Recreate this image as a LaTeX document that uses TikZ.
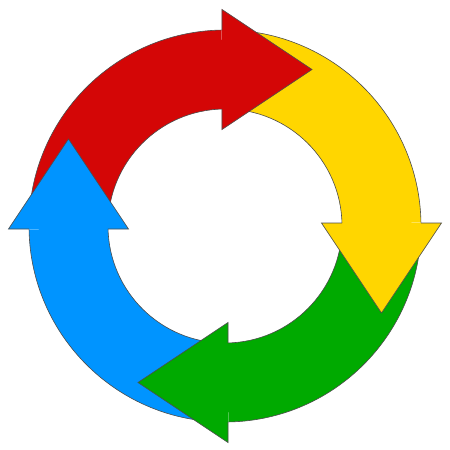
\documentclass[tikz,border=0pt]{standalone}
\usepackage{tikz}
\definecolor{arrowred}{RGB}{212,6,6}
\definecolor{arrowyellow}{RGB}{255,214,0}
\definecolor{arrowgreen}{RGB}{0,170,0}
\definecolor{arrowblue}{RGB}{0,148,255}
\tikzstyle{rim}=[draw=black!70, line width=0.3pt, line join=miter]

\begin{document}
\begin{tikzpicture}[x=0.5pt, y=0.5pt]
		   \useasboundingbox (-225,-224) rectangle (225,226);
		   % shafts (quarter rings, head at the top, turning clockwise)
		   \foreach \turn/\col in {0/arrowred, -90/arrowyellow, -180/arrowgreen, -270/arrowblue} {
			   \begin{scope}[rotate=\turn]
				   \fill [\col] (180:196) arc[start angle=180, end angle=91, radius=196]
					   -- (91:117) arc[start angle=91, end angle=180, radius=117] -- cycle;
				   \draw [rim] (180:196) arc[start angle=180, end angle=91, radius=196];
				   \draw [rim] (91:117) arc[start angle=91, end angle=180, radius=117];
			   \end{scope}
		   }
		   % heads
		   \foreach \turn/\col in {0/arrowred, -90/arrowyellow, -180/arrowgreen, -270/arrowblue} {
			   \begin{scope}[rotate=\turn]
				   \coordinate (top) at (-3, 216.5);
				   \coordinate (bottom) at (-3, 96.5);
				   \coordinate (tip) at (87, 156.5);
				   \fill [\col] (top) -- (tip) -- (bottom) -- cycle;
				   \draw [rim] (-3, 196) -- (top) -- (tip) -- (bottom) -- (-3, 117);
			   \end{scope}
		   }
	   \end{tikzpicture}
\end{document}
